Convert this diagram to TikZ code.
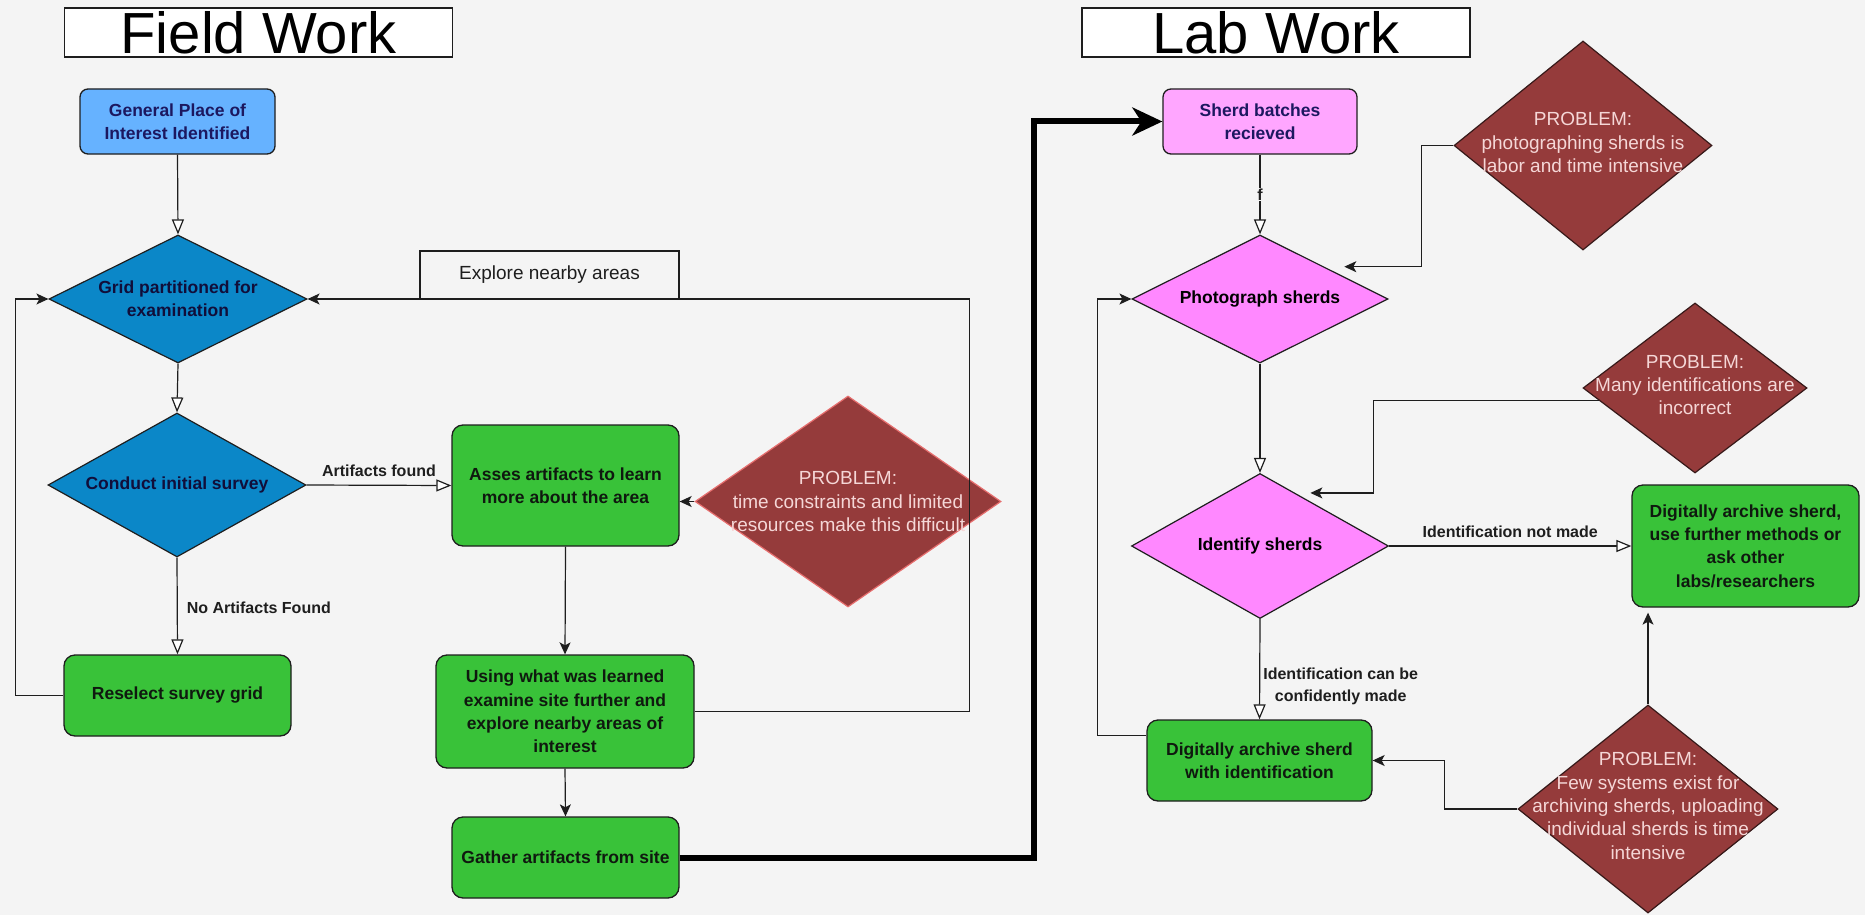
\documentclass[tikz,border=0pt]{standalone}
\usepackage{fontspec}
\setmainfont{Liberation Sans}
\usetikzlibrary{arrows.meta,shapes.geometric,calc}
\definecolor{bg}{RGB}{244,244,244}
\definecolor{lineC}{RGB}{30,30,30}
\definecolor{blueBox}{RGB}{102,178,255}
\definecolor{blueDia}{RGB}{11,135,200}
\definecolor{greenC}{RGB}{57,194,57}
\definecolor{pinkBox}{RGB}{255,166,255}
\definecolor{pinkDia}{RGB}{255,136,255}
\definecolor{probC}{RGB}{149,59,59}
\definecolor{probText}{RGB}{245,215,215}
\definecolor{probEdgeA}{RGB}{230,110,110}
\definecolor{probEdgeB}{RGB}{55,25,25}
\definecolor{navy}{RGB}{28,24,96}
\definecolor{darkText}{RGB}{15,25,15}
\newcommand\fNode{\fontsize{17.5}{23.3}\selectfont\bfseries}
\newcommand\fLbl{\fontsize{16}{22}\selectfont\bfseries}
\newcommand\fProb{\fontsize{19}{23.3}\selectfont}
\newcommand\fTitle{\fontsize{58}{60}\selectfont}
\newcommand\fExpl{\fontsize{19}{23}\selectfont}
\begin{document}
\begin{tikzpicture}[x=1pt,y=-1pt,
  titlebox/.style={rectangle, draw=lineC, line width=1.3pt, fill=white, minimum width=388pt, minimum height=49pt, inner sep=0pt, font=\fTitle},
  box/.style={rectangle, rounded corners=11pt, draw=lineC, line width=1.3pt, inner sep=0pt, align=center, font=\fNode, text=darkText},
  dia/.style={diamond, draw=lineC, line width=1.2pt, inner sep=0pt},
  dtext/.style={align=center, font=\fNode, inner sep=0pt},
  ptext/.style={align=center, font=\fProb, text=probText, inner sep=0pt},
  prob/.style={dia, fill=probC, draw=probEdgeB},
  oarr/.style={draw=lineC, line width=1.2pt, -{Triangle[length=15pt,width=12pt,fill=white]}},
  farr/.style={draw=lineC, line width=1.2pt, -{Stealth[length=12pt,width=11pt,inset=3pt]}},
  bigarr/.style={draw=black, line width=6pt, -{Stealth[length=30pt,width=28pt,inset=9pt]}},
  lbl/.style={font=\fLbl, text=lineC, inner sep=0pt, align=center}
]
\fill[bg] (0,0) rectangle (1865,915);
\useasboundingbox (0,0) rectangle (1865,915);

% titles
\node[titlebox] (tField) at (258.5,32.5) {Field Work};
\node[titlebox] (tLab) at (1276,32.5) {Lab Work};

% ---------- Field work ----------
\node[box, rounded corners=8pt, fill=blueBox, text=navy, minimum width=195pt, minimum height=65pt] (gen) at (177.5,121.5) {General Place of\\Interest Identified};
\node[dia, fill=blueDia, minimum width=258pt, minimum height=128pt,
  label={[dtext, text=navy!60!black]center:{Grid partitioned for\\examination}}] (grid) at (178,299) {};
\node[dia, fill=blueDia, minimum width=258pt, minimum height=144pt,
  label={[dtext, text=navy!60!black]center:{Conduct initial survey}}] (cond) at (177,485) {};
\node[box, fill=greenC, minimum width=227pt, minimum height=81pt] (resel) at (177.5,695.5) {Reselect survey grid};
\node[box, fill=greenC, minimum width=227pt, minimum height=121pt] (asses) at (565.5,485.5) {Asses artifacts to learn\\more about the area};
\node[prob, draw=probEdgeA, minimum width=306pt, minimum height=211pt,
  label={[ptext]center:{PROBLEM:\\time constraints and limited\\resources make this difficult}}] (p1) at (848,501.5) {};
\node[box, fill=greenC, minimum width=258pt, minimum height=113pt] (using) at (565,711.5) {Using what was learned\\examine site further and\\explore nearby areas of\\interest};
\node[box, fill=greenC, minimum width=227pt, minimum height=81pt] (gather) at (565.5,857.5) {Gather artifacts from site};
\node[rectangle, draw=lineC, line width=1.3pt, minimum width=259pt, minimum height=48pt, inner sep=0pt, font=\fExpl, text=lineC] (explore) at (549.5,275) {Explore nearby areas};

\draw[oarr] (gen.south) -- (grid.north);
\draw[oarr] (grid.south) -- (cond.north);
\draw[oarr] (cond.east) -- node[lbl, above, yshift=8pt] (lAF) {Artifacts found} (asses.west);
\draw[oarr] (cond.south) -- node[lbl, right, xshift=9pt, yshift=-2pt] (lNAF) {No Artifacts Found} (resel.north);
\draw[farr] (resel.west) -- ++(-48,0) |- (grid.west);
\draw[farr] (asses.south) -- (using.north);
\draw[farr] (p1.west) -- (p1.west -| asses.east);
\draw[farr] (using.east) -- ++(275,0) |- (grid.east);
\draw[farr] (using.south) -- (gather.north);

% ---------- Lab work ----------
\node[box, rounded corners=8pt, fill=pinkBox, text=navy, minimum width=194pt, minimum height=65pt] (sherd) at (1260,121.5) {Sherd batches\\recieved};
\node[dia, fill=pinkDia, minimum width=256pt, minimum height=128pt,
  label={[dtext, text=black]center:{Photograph sherds}}] (photo) at (1260,299) {};
\node[prob, minimum width=258pt, minimum height=209pt,
  label={[ptext, yshift=3pt]center:{PROBLEM:\\photographing sherds is\\labor and time intensive}}] (p2) at (1583,145.5) {};
\node[dia, fill=pinkDia, minimum width=257pt, minimum height=145pt,
  label={[dtext, text=black]center:{Identify sherds}}] (ident) at (1260,546) {};
\node[prob, minimum width=224pt, minimum height=170pt,
  label={[ptext, yshift=3pt]center:{PROBLEM:\\Many identifications are\\incorrect}}] (p3) at (1695,388) {};
\node[box, fill=greenC, minimum width=227pt, minimum height=122pt] (further) at (1745.5,546) {Digitally archive sherd,\\use further methods or\\ask other\\labs/researchers};
\node[box, fill=greenC, minimum width=225pt, minimum height=81pt] (archive) at (1259.5,760.5) {Digitally archive sherd\\with identification};
\node[prob, minimum width=260pt, minimum height=208pt,
  label={[ptext, yshift=3pt]center:{PROBLEM:\\Few systems exist for\\archiving sherds, uploading\\individual sherds is time\\intensive}}] (p4) at (1648,809) {};

\coordinate (p3out) at ($(p3.west)!0.15!(p3.south)$);
\coordinate (identin) at ($(ident.north)!0.274!(ident.east)$);
\coordinate (archout) at ($(archive.north west)!0.2!(archive.south west)$);

\draw[bigarr] (gather.east) -- ++(354,0) |- (sherd.west);
\draw[oarr] (sherd.south) -- node[font=\fontsize{16}{18}\selectfont\bfseries, text=lineC, fill=bg, inner sep=0.5pt] (lf) {f} (photo.north);
\draw[farr, shorten >=20pt] (p2.west) -- ++(-32,0) |- (photo.north east);
\draw[farr] (archout) -- ++(-49,0) |- (photo.west);
\draw[oarr] (photo.south) -- (ident.north);
\draw[farr, shorten >=15pt] (p3out) -| ([xshift=78pt]identin) -- (identin);
\draw[oarr] (ident.east) -- node[lbl, above, yshift=8pt] (lINM) {Identification not made} (further.west);
\draw[oarr] (ident.south) -- node[lbl, right, xshift=3pt, yshift=-17pt] (lICM) {Identification can be\\confidently made} (archive.north);
\draw[farr] (p4.west) -- ++(-73,0) |- (archive.east);
\draw[farr, shorten >=5pt] (p4.north) -- (p4.north |- further.south);
\end{tikzpicture}
\end{document}
